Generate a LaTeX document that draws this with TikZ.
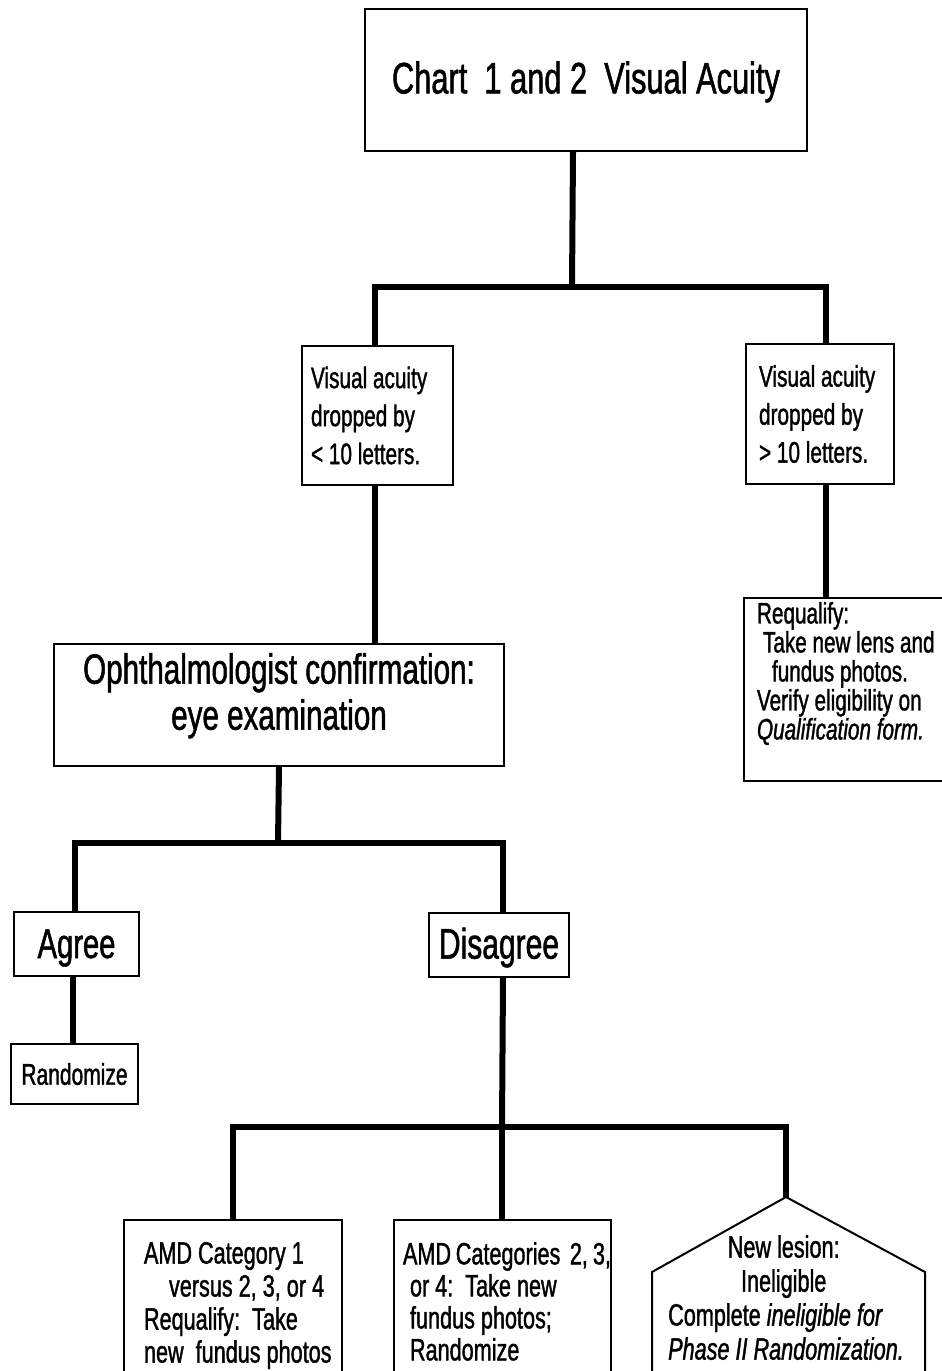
\documentclass[tikz,border=0pt]{standalone}
\usepackage{fontspec}
\setmainfont[FakeStretch=0.7,FakeBold=1.2]{Liberation Sans}
\newcommand{\chartcell}[4]{\parbox[c][#2][#3]{#1}{#4}}

\begin{document}
\begin{tikzpicture}[x=1pt,y=-1pt,
	frame/.style={draw,line width=2pt,inner sep=0pt,anchor=north west},
	link/.style={line width=6pt}]
	\useasboundingbox (0,0) rectangle (942,1371);
	\clip (0,0) rectangle (942,1371);
	\node[frame] (title) at (364,8) {\chartcell{442pt}{142pt}{c}{\centering\fontsize{44}{50}\selectfont\vspace*{4pt}Chart\ \ 1 and 2\ \ Visual Acuity}};
	\node[frame] (vaL) at (301,345) {\chartcell{151pt}{139pt}{c}{\fontsize{29.7}{38}\selectfont\leftskip=9pt Visual acuity\\ dropped by\\ < 10 letters.}};
	\node[frame] (vaR) at (745,343) {\chartcell{148pt}{140pt}{c}{\fontsize{29.7}{38}\selectfont\leftskip=13pt Visual acuity\\ dropped by\\ > 10 letters.}};
	\node[frame] (req) at (743,597) {\chartcell{212pt}{183pt}{t}{\fontsize{29.6}{29}\selectfont\leftskip=13pt\vspace*{4pt}Requalify:\\ \hspace*{6pt}Take new lens and\\ \hspace*{15pt}fundus photos.\\ Verify eligibility on\\ \textit{Qualification form.}}};
	\node[frame] (ophth) at (53,643) {\chartcell{450pt}{122pt}{t}{\centering\fontsize{42.3}{46}\selectfont\vspace*{9pt}Ophthalmologist confirmation:\\ eye examination}};
	\node[frame] (agree) at (13,911) {\chartcell{125pt}{64pt}{c}{\centering\fontsize{41.7}{46}\selectfont\vspace*{8pt}Agree}};
	\node[frame] (rand) at (10,1043) {\chartcell{127pt}{60pt}{c}{\centering\fontsize{30}{34}\selectfont Randomize}};
	\node[frame] (disagree) at (428,912) {\chartcell{140pt}{64pt}{c}{\centering\fontsize{42.9}{46}\selectfont\vspace*{5pt}Disagree}};
	\node[frame] (amd1) at (123,1219) {\chartcell{218pt}{200pt}{t}{\fontsize{30.9}{33}\selectfont\leftskip=20pt\vspace*{22pt}AMD Category 1\\ \hspace*{25pt}versus 2, 3, or 4\\ Requalify:\ \ Take\\ new\ \ fundus photos}};
	\node[frame] (amd2) at (393,1219) {\chartcell{217pt}{200pt}{t}{\fontsize{30.9}{32}\selectfont\leftskip=9pt\vspace*{22pt}AMD Categories\ \ 2, 3,\\ \hspace*{7pt}or 4:\ \ Take new\\ \hspace*{7pt}fundus photos;\\ \hspace*{7pt}Randomize}};
	\coordinate (apex) at (786,1197);
	\draw[line width=2pt] (652,1400) -- (652,1272) -- (apex) -- (925,1272) -- (925,1400);
	\node[anchor=north west,inner sep=0pt] (lesion) at (652,1197) {\chartcell{273pt}{200pt}{t}{\fontsize{30.9}{34}\selectfont\vspace*{38pt}{\centering\hspace*{-10pt}New lesion:\\ \hspace*{-10pt}Ineligible\par}\leftskip=16pt Complete \textit{ineligible for}\\ \textit{Phase II Randomization.}}};
	\coordinate (fork1) at (572,287);
	\coordinate (fork2) at (278,843);
	\coordinate (fork3) at (502,1127);
	\draw[link] ([xshift=-13pt]title.south) -- (fork1);
	\draw[link] ([xshift=-3pt]vaL.north) |- (fork1) -| ([xshift=6pt]vaR.north);
	\draw[link] ([xshift=6pt]vaR.south) -- ([xshift=6pt]vaR.south |- req.north);
	\draw[link] ([xshift=-3pt]vaL.south) -- ([xshift=-3pt]vaL.south |- ophth.north);
	\draw[link] (ophth.south) -- (fork2);
	\draw[link] ([xshift=-2pt]agree.north) |- (fork2) -| ([xshift=4pt]disagree.north);
	\draw[link] ([xshift=-4pt]agree.south) -- ([xshift=-4pt]agree.south |- rand.north);
	\draw[link] ([xshift=4pt]disagree.south) -- (fork3);
	\draw[link] (amd1.north) |- (fork3) -| (apex);
	\draw[link] (fork3) -- (fork3 |- amd2.north);
\end{tikzpicture}
\end{document}
